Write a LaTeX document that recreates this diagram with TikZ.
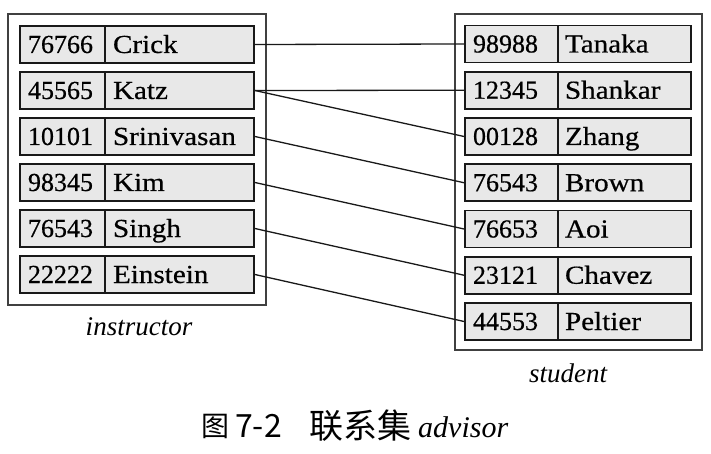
\documentclass[tikz,border=0pt]{standalone}
\usepackage{fontspec}
\setmainfont{Liberation Serif}
\newfontfamily\cellfont[FakeBold=0.5]{Liberation Serif}
\newfontfamily\namefont[FakeBold=0.5,FakeStretch=1.12]{Liberation Serif}
\newfontfamily\cjk{Noto Sans CJK SC}
\begin{document}
\begin{tikzpicture}[x=1pt,y=-1pt,
  cellbase/.style={draw=black!90,line width=1.8pt,fill=gray!18,minimum height=37pt,inner ysep=0pt,
    text height=20pt,text depth=3pt,align=left},
  lid/.style={cellbase,inner xsep=8pt,text width=69pt,font=\fontsize{26}{30}\cellfont},
  lname/.style={cellbase,inner xsep=8pt,text width=133pt,font=\fontsize{26}{30}\namefont},
  rid/.style={cellbase,inner xsep=8pt,text width=77pt,font=\fontsize{26}{30}\cellfont},
  rname/.style={cellbase,inner xsep=7pt,text width=119pt,font=\fontsize{26}{30}\namefont},
  outerbox/.style={draw=black!75,line width=1.3pt},
  link/.style={draw=black!90,line width=1.3pt},
  setlabel/.style={font=\fontsize{27}{30}\selectfont\itshape,anchor=base,inner sep=0pt},
  captxt/.style={anchor=base west,inner sep=0pt}]
\useasboundingbox (0,0) rectangle (711,454);
\fill[white] (0,0) rectangle (711,454);
% outer boxes
\draw[outerbox] (8,14) rectangle (266,305);
\draw[outerbox] (455,14) rectangle (702,350);
% instructor rows
\foreach \i/\id/\nm in {1/76766/Crick,2/45565/Katz,3/10101/Srinivasan,4/98345/Kim,5/76543/Singh,6/22222/Einstein}{
  \node[lid] (li\i) at (62.5,{44.5+46*(\i-1)}) {\id};
  \node[lname] (ln\i) at (179.5,{44.5+46*(\i-1)}) {\nm};
}
% student rows
\foreach \i/\id/\nm in {1/98988/Tanaka,2/12345/Shankar,3/00128/Zhang,4/76543/Brown,5/76653/Aoi,6/23121/Chavez,7/44553/Peltier}{
  \node[rid] (ri\i) at (511.5,{44+46.25*(\i-1)}) {\id};
  \node[rname] (rn\i) at (624.5,{44+46.25*(\i-1)}) {\nm};
}
% links
\draw[link] (ln1.east) -- (ri1.west);
\draw[link] (ln2.east) -- (ri2.west);
\draw[link] (ln2.east) -- (ri3.west);
\draw[link] (ln3.east) -- (ri4.west);
\draw[link] (ln4.east) -- (ri5.west);
\draw[link] (ln5.east) -- (ri6.west);
\draw[link] (ln6.east) -- (ri7.west);
% set labels
\node[setlabel] (instlabel) at (139,335) {instructor};
\node[setlabel] (studlabel) at (568,382) {student};
% caption
\node[captxt,font=\fontsize{28}{32}\selectfont\cjk] (capfig) at (201,436) {图};
\node[captxt,font=\fontsize{32}{36}\selectfont\cjk] (capnum) at (235,437) {7-2};
\node[captxt,font=\fontsize{34}{38}\selectfont\cjk] (capzh) at (309,438) {联系集};
\node[captxt,font=\fontsize{30}{34}\selectfont\itshape] (capen) at (418,437) {advisor};
\end{tikzpicture}
\end{document}
